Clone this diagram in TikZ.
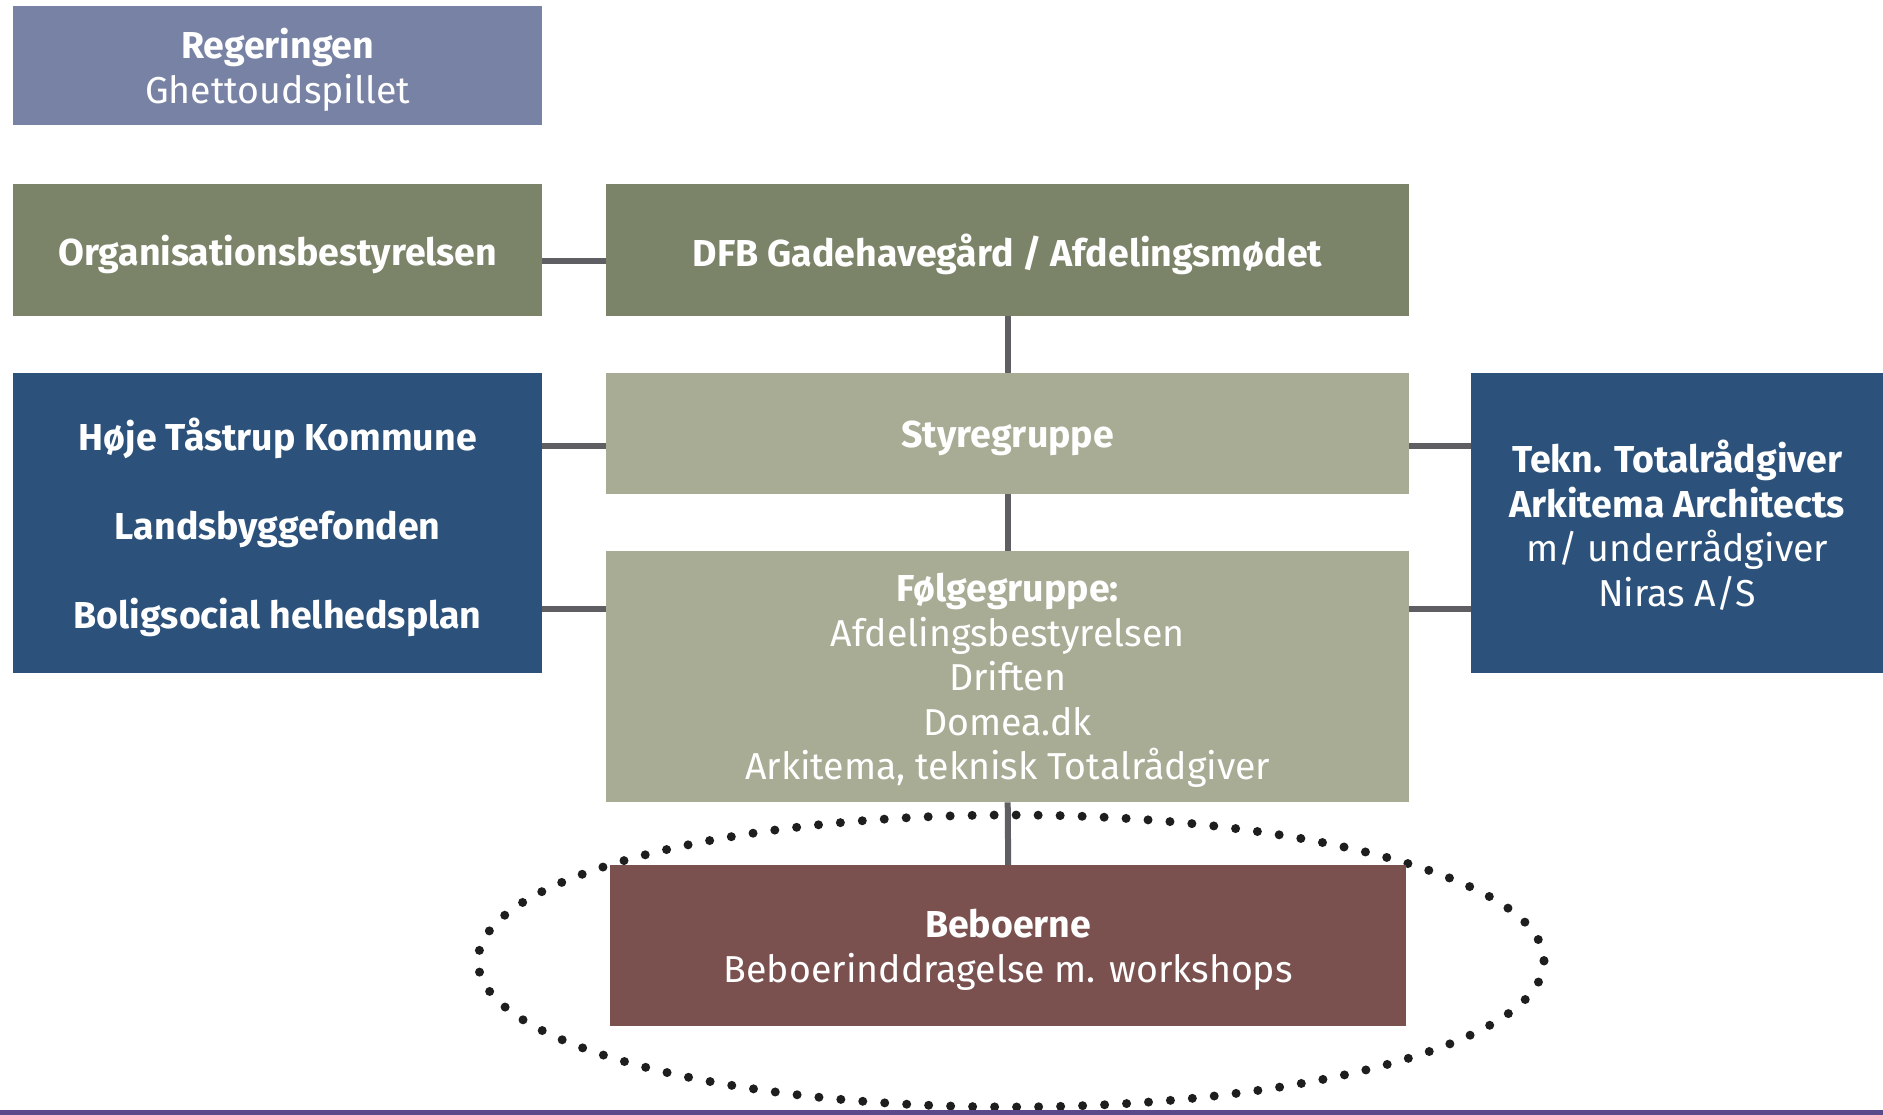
\documentclass[tikz,border=0pt]{standalone}
\usepackage{fontspec}
\setmainfont{Fira Sans}
\usepackage{xcolor}
\usepackage{tikz}

\definecolor{regcol}{HTML}{7882A4}
\definecolor{olivedark}{HTML}{7B8468}
\definecolor{olivelight}{HTML}{A8AC94}
\definecolor{bluebox}{HTML}{2C527C}
\definecolor{brownbox}{HTML}{7A514F}
\definecolor{conncol}{HTML}{5F5F63}
\definecolor{dotcol}{HTML}{1E1E1E}
\definecolor{bottomline}{HTML}{5B4A8A}

\tikzset{
  orgbox/.style={anchor=north west, inner sep=0pt, align=center, text=white,
    text depth=0pt, font=\fontsize{37.5}{44.5}\selectfont},
  conn/.style={draw=conncol, line width=6pt},
}

\begin{document}
\begin{tikzpicture}[x=1pt,y=-1pt]
  \useasboundingbox (0,0) rectangle (1883,1115);
  % Beboer-Ellipse
  \draw[dotcol, line width=9pt, line cap=round, dash pattern=on 0pt off 22pt]
    (1011,961) ellipse [x radius=533, y radius=146];
  % linke Spalte
  \node[orgbox, fill=regcol, minimum width=529pt, minimum height=119pt] (reg) at (13,6)
    {\textbf{Regeringen}\\Ghettoudspillet};
  \node[orgbox, fill=olivedark, minimum width=529pt, minimum height=132pt] (org) at (13,184)
    {\textbf{Organisationsbestyrelsen}};
  \node[orgbox, fill=bluebox, minimum width=529pt, minimum height=300pt] (komm) at (13,373)
    {\textbf{Høje Tåstrup Kommune}\\[44.5pt]\textbf{Landsbyggefonden}\\[44.5pt]\textbf{Boligsocial helhedsplan}};
  % mittlere Spalte
  \node[orgbox, fill=olivedark, minimum width=803pt, minimum height=132pt] (dfb) at (606,184)
    {\textbf{DFB Gadehavegård / Afdelingsmødet}};
  \node[orgbox, fill=olivelight, minimum width=803pt, minimum height=121pt] (styre) at (606,373)
    {\textbf{Styregruppe}};
  \node[orgbox, fill=olivelight, minimum width=803pt, minimum height=251pt] (folge) at (606,551)
    {\textbf{Følgegruppe:}\\Afdelingsbestyrelsen\\Driften\\Domea.dk\\Arkitema, teknisk Totalrådgiver};
  \node[orgbox, fill=brownbox, minimum width=796pt, minimum height=161pt] (bebo) at (610,865)
    {\textbf{Beboerne}\\Beboerinddragelse m. workshops};
  % rechte Spalte
  \node[orgbox, fill=bluebox, minimum width=412pt, minimum height=300pt] (tekn) at (1471,373)
    {\textbf{Tekn. Totalrådgiver}\\\textbf{Arkitema Architects}\\m/ underrådgiver\\Niras A/S};
  % Verbindungen
  \draw[conn] ([yshift=-11pt]org.east) -- ([yshift=-11pt]dfb.west);
  \draw[conn] (dfb.south) -- (styre.north);
  \draw[conn] (styre.south) -- (folge.north);
  \draw[conn] (folge.south) -- (bebo.north);
  \draw[conn] ([yshift=-12pt]styre.west) -- ([yshift=-12pt]styre.west -| komm.east);
  \draw[conn] ([yshift=-58pt]folge.north west) -- ([yshift=-58pt]folge.north west -| komm.east);
  \draw[conn] ([yshift=-12pt]styre.east) -- ([yshift=-12pt]styre.east -| tekn.west);
  \draw[conn] ([yshift=-58pt]folge.north east) -- ([yshift=-58pt]folge.north east -| tekn.west);
  % Linie unten
  \fill[bottomline] (0,1110) rectangle (1883,1115);
\end{tikzpicture}
\end{document}
